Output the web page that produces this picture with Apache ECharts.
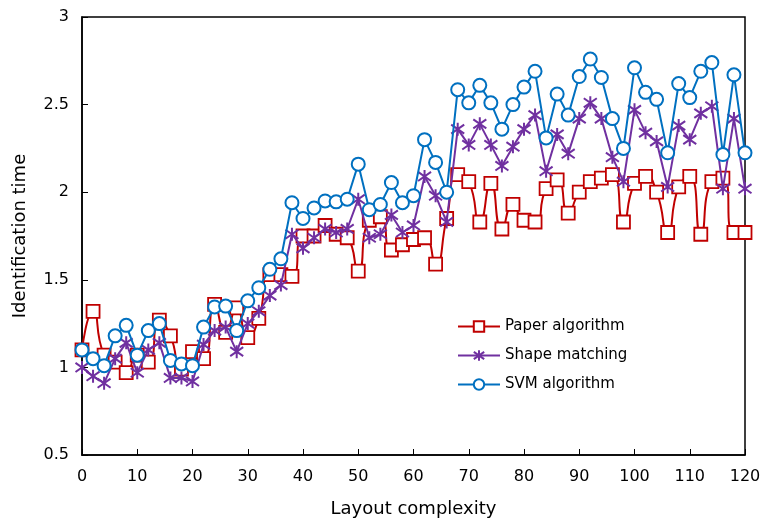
<!DOCTYPE html>
<html>
<head>
<meta charset="utf-8">
<script src="https://cdn.jsdelivr.net/npm/echarts@6/dist/echarts.min.js"></script>
<style>
  html, body { margin: 0; padding: 0; background: #fff; }
  #main { width: 765px; height: 523px; }
</style>
</head>
<body>
<div id="main"></div>
<script>
// x positions: 0, 2, 4, ... 120
const complexity = [0, 2, 4, 6, 8, 10, 12, 14, 16, 18, 20, 22, 24, 26, 28, 30, 32, 34, 36, 38,
  40, 42, 44, 46, 48, 50, 52, 54, 56, 58, 60, 62, 64, 66, 68, 70, 72, 74, 76, 78,
  80, 82, 84, 86, 88, 90, 92, 94, 96, 98, 100, 102, 104, 106, 108, 110, 112, 114, 116, 118, 120];

const paperAlgorithm = [1.10, 1.32, 1.07, 1.03, 0.97, 1.07, 1.03, 1.27, 1.18, 0.99, 1.09, 1.05, 1.36, 1.20, 1.34, 1.17, 1.28, 1.53, 1.53, 1.52,
  1.75, 1.75, 1.81, 1.76, 1.74, 1.55, 1.84, 1.86, 1.67, 1.70, 1.73, 1.74, 1.59, 1.85, 2.10, 2.06, 1.83, 2.05, 1.79, 1.93,
  1.84, 1.83, 2.02, 2.07, 1.88, 2.00, 2.06, 2.08, 2.10, 1.83, 2.05, 2.09, 2.00, 1.77, 2.03, 2.09, 1.76, 2.06, 2.08, 1.77, 1.77];

const shapeMatching = [1.00, 0.95, 0.91, 1.05, 1.14, 0.97, 1.10, 1.14, 0.94, 0.94, 0.92, 1.13, 1.21, 1.23, 1.09, 1.25, 1.32, 1.41, 1.47, 1.76,
  1.68, 1.74, 1.79, 1.77, 1.79, 1.96, 1.74, 1.76, 1.87, 1.77, 1.81, 2.09, 1.98, 1.83, 2.36, 2.27, 2.39, 2.27, 2.15, 2.26,
  2.36, 2.44, 2.12, 2.33, 2.22, 2.42, 2.51, 2.42, 2.20, 2.06, 2.47, 2.34, 2.29, 2.03, 2.38, 2.30, 2.45, 2.49, 2.02, 2.42, 2.02];

const svmAlgorithm = [1.10, 1.05, 1.01, 1.18, 1.24, 1.07, 1.21, 1.25, 1.04, 1.02, 1.01, 1.23, 1.345, 1.35, 1.21, 1.38, 1.455, 1.56, 1.62, 1.94,
  1.85, 1.91, 1.95, 1.945, 1.96, 2.16, 1.90, 1.93, 2.055, 1.94, 1.98, 2.30, 2.17, 2.00, 2.585, 2.51, 2.61, 2.51, 2.36, 2.50,
  2.60, 2.69, 2.31, 2.56, 2.44, 2.66, 2.76, 2.655, 2.42, 2.25, 2.71, 2.57, 2.53, 2.225, 2.62, 2.54, 2.69, 2.74, 2.215, 2.67, 2.225];

const seriesNames = ['Paper algorithm', 'Shape matching', 'SVM algorithm'];

const FONT = 'DejaVu Sans';
const asterisk = 'path://M5,0L5,10M0.7,1.5L9.3,8.5M0.7,8.5L9.3,1.5';

function pairs(vals) {
  return vals.map((v, i) => [complexity[i], v]);
}

const chart = echarts.init(document.getElementById('main'), null, { renderer: 'canvas' });

const option = {
  animation: false,
  backgroundColor: '#fff',
  grid: {
    left: 82, right: 20, top: 17, bottom: 66,
    show: true, borderColor: '#000', borderWidth: 1.5, backgroundColor: 'transparent'
  },
  legend: {
    orient: 'vertical',
    left: 452, top: 314,
    itemWidth: 42, itemHeight: 13,
    itemGap: 14,
    textStyle: { fontFamily: FONT, fontSize: 15, color: '#000', padding: [0, 0, 0, 0] },
    data: seriesNames
  },
  xAxis: {
    type: 'value',
    min: 0, max: 120, interval: 10,
    name: 'Layout complexity',
    nameLocation: 'middle',
    nameGap: 45,
    nameTextStyle: { fontFamily: FONT, fontSize: 18, color: '#000' },
    axisLine: { lineStyle: { color: '#000', width: 1.5 } },
    axisTick: { inside: true, length: 6, lineStyle: { color: '#000' } },
    axisLabel: { fontFamily: FONT, fontSize: 16, color: '#000', margin: 14 },
    splitLine: { show: false }
  },
  yAxis: {
    type: 'value',
    min: 0.5, max: 3, interval: 0.5,
    name: 'Identification time',
    nameLocation: 'middle',
    nameGap: 53,
    nameTextStyle: { fontFamily: FONT, fontSize: 18, color: '#000' },
    axisLine: { show: true, lineStyle: { color: '#000', width: 1.5 } },
    axisTick: { show: true, inside: true, length: 6, lineStyle: { color: '#000' } },
    axisLabel: { fontFamily: FONT, fontSize: 16, color: '#000', margin: 13 },
    splitLine: { show: false }
  },
  series: [
    {
      name: seriesNames[0],
      type: 'line',
      data: pairs(paperAlgorithm),
      smooth: 0.6,
      symbol: 'rect',
      symbolSize: 13,
      lineStyle: { color: '#C00000', width: 2 },
      itemStyle: { color: '#fff', borderColor: '#C00000', borderWidth: 1.8 },
      z: 3
    },
    {
      name: seriesNames[1],
      type: 'line',
      data: pairs(shapeMatching),
      symbol: asterisk,
      symbolSize: 13,
      lineStyle: { color: '#7030A0', width: 2 },
      itemStyle: { color: '#7030A0', borderColor: '#7030A0', borderWidth: 2 },
      z: 4
    },
    {
      name: seriesNames[2],
      type: 'line',
      data: pairs(svmAlgorithm),
      symbol: 'circle',
      symbolSize: 13,
      lineStyle: { color: '#0070C0', width: 2 },
      itemStyle: { color: '#fff', borderColor: '#0070C0', borderWidth: 2 },
      z: 5
    }
  ]
};

chart.setOption(option);
</script>
</body>
</html>
